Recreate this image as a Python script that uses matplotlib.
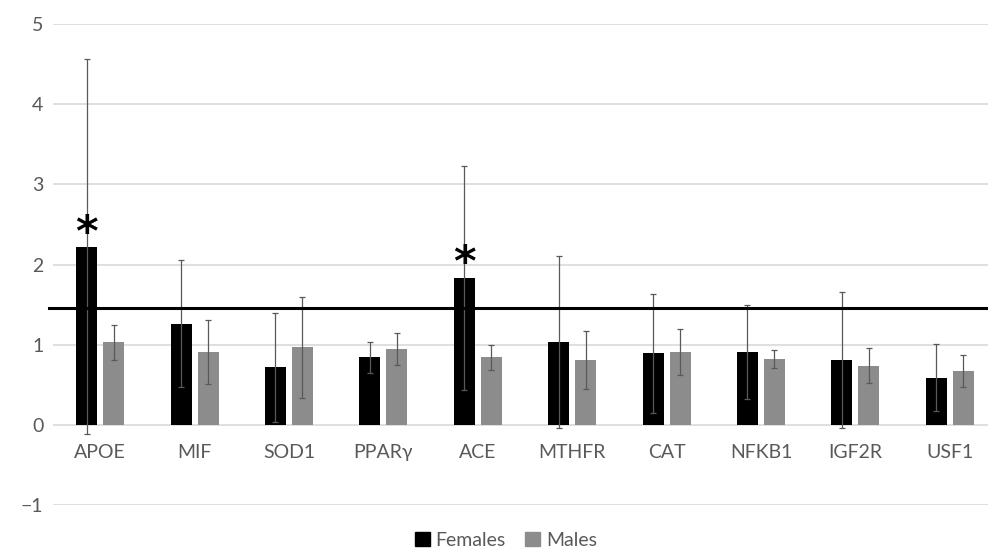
import matplotlib
matplotlib.use("Agg")
import matplotlib.pyplot as plt
import matplotlib.transforms as mtransforms
import numpy as np
from matplotlib.patches import Patch

plt.rcParams['font.family'] = ['Lato', 'DejaVu Sans']

genes = ["APOE", "MIF", "SOD1", "PPARγ", "ACE", "MTHFR", "CAT", "NFKB1", "IGF2R", "USF1"]
females = [2.22, 1.26, 0.72, 0.84, 1.83, 1.03, 0.89, 0.91, 0.81, 0.59]
females_err = [2.34, 0.79, 0.68, 0.19, 1.40, 1.07, 0.74, 0.59, 0.85, 0.42]
males = [1.03, 0.91, 0.97, 0.95, 0.84, 0.81, 0.91, 0.82, 0.74, 0.67]
males_err = [0.22, 0.40, 0.63, 0.20, 0.16, 0.36, 0.29, 0.11, 0.22, 0.20]
threshold = 1.46
significant = ["APOE", "ACE"]
star_y = [2.51, 2.13]
yticks = [-1, 0, 1, 2, 3, 4, 5]

W, H = 988, 549
fig = plt.figure(figsize=(W / 100, H / 100), dpi=100)
left_px, right_px, top_px, bottom_px = 53, 988, 24, 505
ax = fig.add_axes([left_px / W, 1 - bottom_px / H, (right_px - left_px) / W, (bottom_px - top_px) / H])

x = np.arange(len(genes))
bw = 0.222
off = 0.143
txt = '#595959'

ax.set_ylim(-1, 5)
ax.set_xlim(-0.5, 9.405)
ax.set_yticks(yticks)
ax.set_yticklabels([f"{v}" if v >= 0 else f"\u22121" for v in yticks])
ax.yaxis.grid(True, color='#d9d9d9', lw=1.2, zorder=0)
ax.set_axisbelow(True)
for s in ax.spines.values():
    s.set_visible(False)

ax.bar(x - off, females, bw, color='black', zorder=2, label='Females')
ax.bar(x + off, males, bw, color='#8c8c8c', zorder=2, label='Males')
ax.errorbar(x - off, females, yerr=females_err, fmt='none', ecolor='#595959', elinewidth=0.9, capsize=2.2, capthick=0.9, zorder=3)
ax.errorbar(x + off, males, yerr=males_err, fmt='none', ecolor='#595959', elinewidth=0.9, capsize=2.2, capthick=0.9, zorder=3)

ax.axhline(threshold, color='black', lw=2.2, zorder=4, xmin=-0.004, clip_on=False)

star_shift = mtransforms.ScaledTranslation(0, -10 / 100, fig.dpi_scale_trans)
for g, sy in zip(significant, star_y):
    i = genes.index(g)
    ax.text(x[i] - off, sy, "*", ha='center', va='center', fontsize=31, fontweight='bold',
            color='black', family='DejaVu Sans', zorder=5,
            transform=ax.transData + star_shift)

ax.set_xticks(x)
ax.set_xticklabels([])
ax.tick_params(axis='both', length=0)
ax.tick_params(axis='y', labelsize=14, labelcolor=txt, pad=7)
lab_shift = mtransforms.ScaledTranslation(0, -19 / 100, fig.dpi_scale_trans)
for xi, g in zip(x, genes):
    ax.text(xi, 0, g, transform=ax.transData + lab_shift, ha='center', va='top', fontsize=14, color=txt)

handles = [Patch(color='black', label='Females'), Patch(color='#8c8c8c', label='Males')]
leg = fig.legend(handles=handles, loc='center', bbox_to_anchor=(506 / W, 1 - 540 / H), ncol=2,
                 frameon=False, fontsize=14, handlelength=0.75, handleheight=0.75, handletextpad=0.3,
                 columnspacing=1.0, borderaxespad=0)
for t in leg.get_texts():
    t.set_color(txt)

fig.savefig("out.png", dpi=100)
